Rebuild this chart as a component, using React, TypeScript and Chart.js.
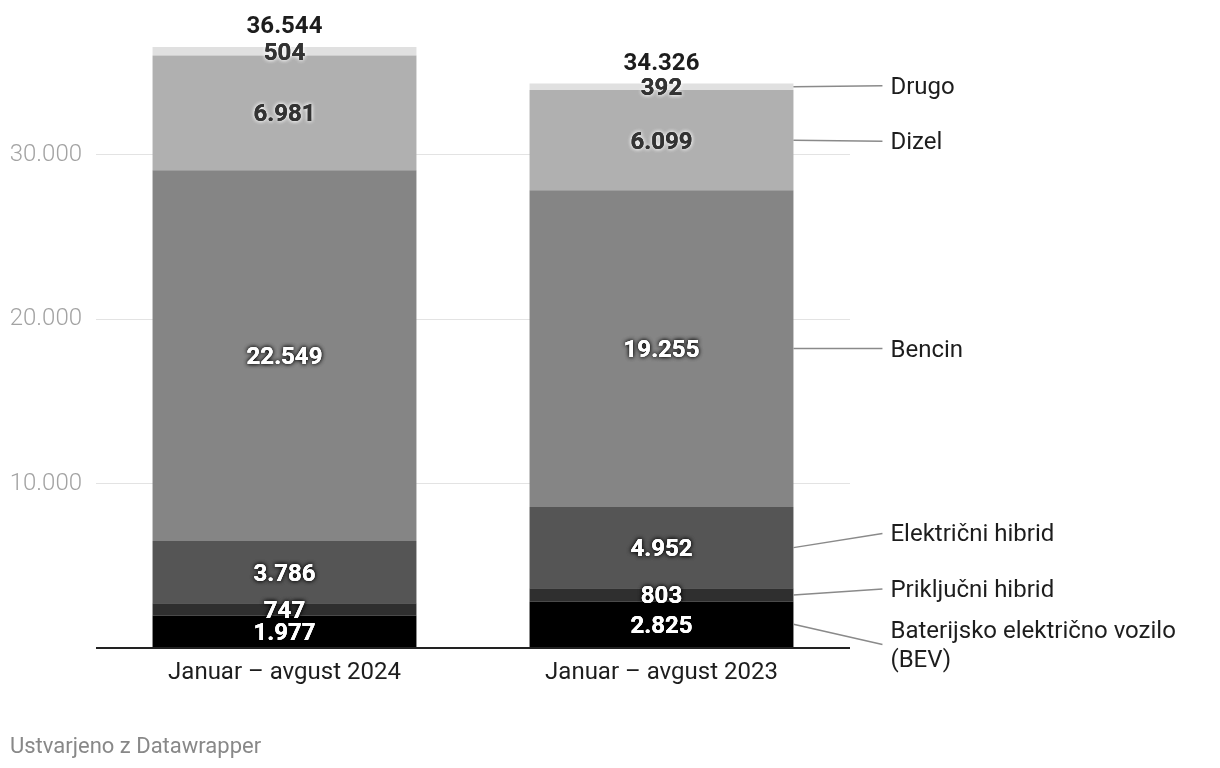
import React, { useEffect, useRef } from "react";
import { Chart, registerables } from "chart.js";

Chart.register(...registerables);

const categories = ["Januar – avgust 2024", "Januar – avgust 2023"];
const seriesNames = [
  "Baterijsko električno vozilo (BEV)",
  "Priključni hibrid",
  "Električni hibrid",
  "Bencin",
  "Dizel",
  "Drugo",
];
const sideLabels = [
  ["Baterijsko električno vozilo", "(BEV)"],
  ["Priključni hibrid"],
  ["Električni hibrid"],
  ["Bencin"],
  ["Dizel"],
  ["Drugo"],
];
const bev = [1977, 2825];
const phev = [747, 803];
const hev = [3786, 4952];
const bencin = [22549, 19255];
const dizel = [6981, 6099];
const drugo = [504, 392];
const totals = [36544, 34326];
const yTicks = [0, 10000, 20000, 30000];
const seriesValues = [bev, phev, hev, bencin, dizel, drugo];
const colors = ["#000000", "#2f2f2f", "#555555", "#858585", "#b0b0b0", "#e0e0e0"];
const darkText = [false, false, false, false, true, true];

const FONT = "Roboto";

function fmt(v: number): string {
  return String(v).replace(/\B(?=(\d{3})+(?!\d))/g, ".");
}

function spreadLabels(ys: number[], gap: number): number[] {
  const idx = ys.map((y, i) => i).sort((a, b) => ys[a] - ys[b]);
  type Cl = { items: number[]; orig: number[]; start: number };
  let clusters: Cl[] = idx.map((i) => ({ items: [i], orig: [ys[i]], start: ys[i] }));
  const place = (c: Cl) => {
    const n = c.items.length;
    const mean = c.orig.reduce((s, v) => s + v, 0) / n;
    c.start = mean - ((n - 1) * gap) / 2;
  };
  let changed = true;
  while (changed) {
    changed = false;
    for (let k = 0; k < clusters.length - 1; k++) {
      const a = clusters[k];
      const b = clusters[k + 1];
      const aEnd = a.start + (a.items.length - 1) * gap;
      if (b.start - aEnd < gap) {
        const m: Cl = { items: a.items.concat(b.items), orig: a.orig.concat(b.orig), start: 0 };
        place(m);
        clusters.splice(k, 2, m);
        changed = true;
        break;
      }
    }
  }
  const out = new Array(ys.length).fill(0);
  clusters.forEach((c) => c.items.forEach((it, j) => (out[it] = c.start + j * gap)));
  return out;
}

const labelPlugin = {
  id: "dwLabels",
  afterDatasetsDraw(chart: any) {
    const ctx = chart.ctx as CanvasRenderingContext2D;
    ctx.save();
    ctx.textAlign = "center";
    ctx.textBaseline = "middle";
    ctx.font = `bold 24px ${FONT}`;
    const nCat = categories.length;
    chart.data.datasets.forEach((ds: any, i: number) => {
      const meta = chart.getDatasetMeta(i);
      meta.data.forEach((el: any, j: number) => {
        const p = el.getProps(["x", "y", "base"], true);
        const cy = (p.y + p.base) / 2 + 2.5;
        const txt = fmt(ds.data[j]);
        if (darkText[i]) {
          ctx.shadowColor = "rgba(255,255,255,0.9)";
          ctx.fillStyle = "#333333";
        } else {
          ctx.shadowColor = "rgba(0,0,0,0.85)";
          ctx.fillStyle = "#ffffff";
        }
        ctx.shadowBlur = 4;
        ctx.fillText(txt, p.x, cy);
        ctx.fillText(txt, p.x, cy);
        ctx.shadowBlur = 0;
        ctx.fillText(txt, p.x, cy);
      });
    });
    ctx.shadowBlur = 0;
    ctx.shadowColor = "transparent";
    const lastIdx = chart.data.datasets.length - 1;
    const topMeta = chart.getDatasetMeta(lastIdx);
    topMeta.data.forEach((el: any, j: number) => {
      const p = el.getProps(["x", "y"], true);
      ctx.fillStyle = "#1d1d1d";
      ctx.fillText(fmt(totals[j]), p.x, p.y - 20);
    });
    const j = nCat - 1;
    const centers: number[] = [];
    const rights: number[] = [];
    chart.data.datasets.forEach((ds: any, i: number) => {
      const el: any = chart.getDatasetMeta(i).data[j];
      const p = el.getProps(["x", "y", "base", "width"], true);
      centers.push((p.y + p.base) / 2);
      rights.push(p.x + p.width / 2);
    });
    const ly = spreadLabels(centers, 55.5);
    ctx.font = `24px ${FONT}`;
    ctx.textAlign = "left";
    ctx.strokeStyle = "#8a8a8a";
    ctx.lineWidth = 1.5;
    sideLabels.forEach((lines, i) => {
      ctx.beginPath();
      ctx.moveTo(rights[i], centers[i]);
      ctx.lineTo(rights[i] + 89, ly[i]);
      ctx.stroke();
      ctx.fillStyle = "#1d1d1d";
      const lh = 29;
      lines.forEach((t, k) => {
        const y = ly[i] + (k - (lines.length - 1) / 2) * lh;
        ctx.fillText(t, rights[i] + 97, y + 2);
      });
    });
    ctx.font = `22px ${FONT}`;
    ctx.fillStyle = "#888888";
    ctx.fillText("Ustvarjeno z Datawrapper", 10, 747);
    ctx.restore();
  },
};

export default function App() {
  const ref = useRef<HTMLCanvasElement | null>(null);
  useEffect(() => {
    if (!ref.current) return;
    const chart = new Chart(ref.current, {
      type: "bar",
      data: {
        labels: categories,
        datasets: seriesValues.map((vals, i) => ({
          label: seriesNames[i],
          data: vals,
          backgroundColor: colors[i],
          borderWidth: 0,
          categoryPercentage: 1,
          barPercentage: 0.7,
        })),
      },
      options: {
        animation: false,
        responsive: false,
        devicePixelRatio: 1,
        layout: { padding: { top: 24, right: 370, left: 0, bottom: 0 } },
        plugins: { legend: { display: false }, tooltip: { enabled: false } },
        scales: {
          x: {
            stacked: true,
            grid: { display: false, drawTicks: false },
            border: { display: false },
            ticks: {
              color: "#1d1d1d",
              font: { family: FONT, size: 24 },
              padding: 11,
            },
            afterFit: (s: any) => {
              s.height = 120;
              s.paddingLeft = 0;
              s.paddingRight = 0;
            },
          },
          y: {
            stacked: true,
            min: 0,
            max: 37950,
            afterBuildTicks: (s: any) => {
              s.ticks = yTicks.map((v) => ({ value: v }));
            },
            afterFit: (s: any) => {
              s.width = 96;
              s.paddingTop = 0;
              s.paddingBottom = 0;
            },
            grid: {
              drawTicks: false,
              color: (c: any) => (c.tick && c.tick.value === 0 ? "#222222" : "#e3e3e3"),
              lineWidth: (c: any) => (c.tick && c.tick.value === 0 ? 2 : 1),
            },
            border: { display: false },
            ticks: {
              color: "#a3a3a3",
              font: { family: FONT, size: 24, weight: "300" },
              padding: 14,
              callback: (v: any) => (Number(v) === 0 ? "" : fmt(Number(v))),
            },
          },
        },
      },
      plugins: [labelPlugin],
    });
    return () => chart.destroy();
  }, []);
  return (
    <div style={{ position: "absolute", left: 0, top: 0, width: 1220, height: 768, background: "#fff" }}>
      <canvas ref={ref} width={1220} height={768} style={{ width: 1220, height: 768, display: "block" }} />
    </div>
  );
}
